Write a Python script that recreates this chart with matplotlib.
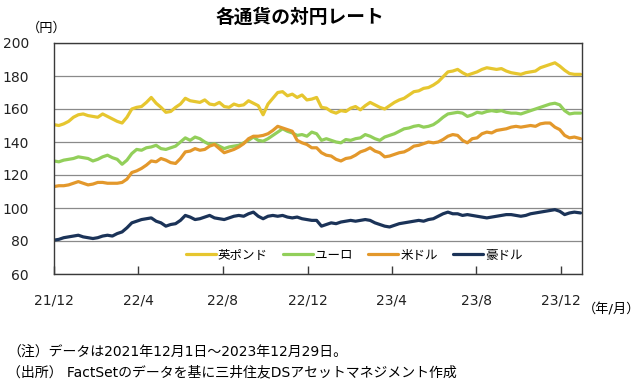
import matplotlib
matplotlib.use("Agg")
import matplotlib.pyplot as plt
import pandas as pd

plt.rcParams['font.family'] = ['DejaVu Sans', 'Noto Sans CJK JP']

# --- Data (weekly readings, 2021/12/1 - 2023/12/29) ---
gbp = [150.5, 150.0, 151.0, 152.5, 155.0, 156.5, 157.0, 156.0, 155.5, 155.0,
       157.0, 155.5, 154.0, 152.5, 151.5, 155.0, 160.0, 161.0, 161.5, 164.0,
       167.0, 163.5, 161.0, 158.0, 158.5, 161.0, 163.0, 166.5, 165.0, 164.5,
       164.0, 165.5, 163.0, 162.5, 164.0, 161.5, 161.0, 163.0, 162.0, 162.5,
       165.0, 163.5, 162.0, 156.5, 163.0, 166.5, 170.0, 170.5, 168.0, 169.0,
       167.0, 168.5, 165.5, 166.0, 167.0, 161.0, 160.5, 158.5, 157.5, 159.0,
       158.5, 160.5, 161.5, 159.5, 162.0, 164.0, 162.5, 161.0, 160.0, 162.0,
       164.0, 165.5, 166.5, 168.5, 170.5, 171.0, 172.5, 173.0, 174.5, 176.5,
       179.5, 182.5, 183.0, 184.0, 182.0, 180.5, 181.5, 182.5, 184.0, 185.0,
       184.5, 184.0, 184.5, 183.0, 182.0, 181.5, 181.0, 182.0, 182.5, 183.0,
       185.0, 186.0, 187.0, 188.0, 186.0, 183.5, 181.5, 181.0, 181.0]
eur = [128.5, 128.0, 129.0, 129.5, 130.0, 131.0, 130.5, 130.0, 128.5, 129.5,
       131.0, 132.0, 130.5, 129.5, 126.5, 129.0, 133.0, 135.5, 135.0, 136.5,
       137.0, 138.0, 136.0, 135.5, 136.5, 137.5, 140.0, 142.5, 141.0, 143.0,
       142.0, 140.0, 138.5, 139.0, 137.5, 136.0, 137.0, 137.5, 138.0, 139.5,
       141.0, 143.0, 141.0, 140.5, 142.0, 144.0, 146.0, 148.0, 146.5, 145.5,
       144.0, 144.5, 143.5, 146.0, 145.0, 141.0, 142.0, 141.0, 140.0, 139.5,
       141.5, 141.0, 142.0, 142.5, 144.5, 143.5, 142.0, 141.0, 143.0, 144.0,
       145.0, 146.5, 148.0, 148.5, 149.5, 150.0, 149.0, 149.5, 150.5, 152.5,
       155.0, 157.0, 157.5, 158.0, 157.5, 155.5, 156.5, 158.0, 157.5, 158.5,
       159.0, 158.5, 159.0, 158.0, 157.5, 157.5, 157.0, 158.0, 159.0, 160.0,
       161.0, 162.0, 163.0, 163.5, 162.5, 159.0, 157.0, 157.5, 157.5]
usd = [113.0, 113.5, 113.5, 114.0, 115.0, 116.0, 115.0, 114.0, 114.5, 115.5,
       115.5, 115.0, 115.0, 115.0, 115.5, 117.5, 121.5, 122.5, 124.0, 126.0,
       128.5, 128.0, 130.0, 129.0, 127.5, 127.0, 130.0, 134.0, 134.5, 136.0,
       135.0, 135.5, 137.5, 138.5, 136.0, 133.5, 134.5, 135.5, 137.0, 139.0,
       142.0, 143.5, 143.5, 144.0, 145.0, 147.0, 149.5, 148.5, 147.5, 146.5,
       141.0, 139.5, 138.5, 136.5, 136.5, 133.5, 132.0, 131.5, 129.5, 128.5,
       130.0, 130.5, 132.0, 134.0, 135.0, 136.5, 134.5, 133.5, 131.0, 131.5,
       132.5, 133.5, 134.0, 135.5, 137.5, 138.0, 139.0, 140.0, 139.5, 140.0,
       141.5, 143.5, 144.5, 144.0, 141.0, 139.5, 142.0, 142.5, 145.0, 146.0,
       145.5, 147.0, 147.5, 148.0, 149.0, 149.5, 149.0, 149.5, 150.0, 149.5,
       151.0, 151.5, 151.5, 149.0, 147.5, 144.0, 142.5, 143.0, 142.0]
aud = [80.5, 81.0, 82.0, 82.5, 83.0, 83.5, 82.5, 82.0, 81.5, 82.0,
       83.0, 83.5, 83.0, 84.5, 85.5, 88.0, 91.0, 92.0, 93.0, 93.5,
       94.0, 92.0, 91.0, 89.0, 90.0, 90.5, 92.5, 95.5, 94.5, 93.0,
       93.5, 94.5, 95.5, 94.0, 93.5, 93.0, 94.0, 95.0, 95.5, 95.0,
       96.5, 97.5, 95.0, 93.5, 95.0, 95.5, 95.0, 95.5, 94.5, 94.0,
       94.5, 93.5, 93.0, 92.5, 92.5, 89.0, 90.0, 91.0, 90.5, 91.5,
       92.0, 92.5, 92.0, 92.5, 93.0, 92.5, 91.0, 90.0, 89.0, 88.5,
       89.5, 90.5, 91.0, 91.5, 92.0, 92.5, 92.0, 93.0, 93.5, 95.0,
       96.5, 97.5, 96.5, 96.5, 95.5, 96.0, 95.5, 95.0, 94.5, 94.0,
       94.5, 95.0, 95.5, 96.0, 96.0, 95.5, 95.0, 95.5, 96.5, 97.0,
       97.5, 98.0, 98.5, 99.0, 98.0, 96.0, 97.0, 97.5, 97.0]

names = ["英ポンド", "ユーロ", "米ドル", "豪ドル"]
colors = ["#E6C62F", "#92CF5A", "#E3982B", "#1B3358"]
tick_dates = ["2021-12-01", "2022-04-01", "2022-08-01", "2022-12-01",
              "2023-04-01", "2023-08-01", "2023-12-01"]
tick_labels = ["21/12", "22/4", "22/8", "22/12", "23/4", "23/8", "23/12"]

dates = pd.date_range("2021-12-01", periods=len(gbp), freq="7D")
dates = dates[:-1].append(pd.DatetimeIndex(["2023-12-29"]))

# --- Figure ---
fig = plt.figure(figsize=(6.4, 3.85), dpi=100)
ax = fig.add_axes([54/640, 1-274/385, 528/640, 231/385])

for vals, name, col in zip([gbp, eur, usd, aud], names, colors):
    ax.plot(dates, vals, color=col, lw=2.3, label=name, solid_capstyle="round")

ax.set_ylim(60, 200)
ax.set_yticks(range(60, 201, 20))
ax.set_xlim(pd.Timestamp("2021-12-01"), pd.Timestamp("2023-12-31"))
ax.set_xticks(pd.to_datetime(tick_dates))
ax.set_xticklabels(tick_labels)

ax.grid(axis="y", color="#8a8a8a", lw=0.9)
ax.set_axisbelow(True)
for sp in ax.spines.values():
    sp.set_color("#3a3a3a")
    sp.set_linewidth(1.0)

ax.tick_params(axis="y", length=0, pad=18, labelsize=10, labelcolor="#222222")
ax.tick_params(axis="x", direction="in", length=6, width=1.0, color="#3a3a3a",
               pad=14, labelsize=10, labelcolor="#222222")

# legend inside the plot, no frame
ax.legend(loc="center", bbox_to_anchor=(0.569, 0.082), ncol=4, frameon=False,
          handlelength=2.4, handletextpad=0.15, columnspacing=1.25,
          prop={"family": "Noto Sans CJK JP", "size": 9})

fig.text(300/640, 1-17/385, "各通貨の対円レート", ha="center", va="center",
         fontsize=13.5, fontweight="bold", family="Noto Sans CJK JP")
fig.text(47/640, 1-28/385, "（円）", ha="center", va="center", fontsize=9.5)
fig.text(612/640, 1-310/385, "（年/月）", ha="center", va="center", fontsize=9.5)
fig.text(7/640, 1-352/385, "（注）データは2021年12月1日～2023年12月29日。",
         ha="left", va="center", fontsize=10)
fig.text(7/640, 1-372/385, "（出所） FactSetのデータを基に三井住友DSアセットマネジメント作成",
         ha="left", va="center", fontsize=10)

fig.savefig("out.png", dpi=100)
